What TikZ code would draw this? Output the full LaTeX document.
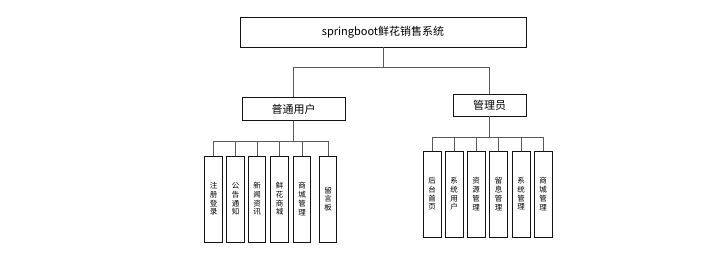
\documentclass[tikz,border=0pt]{standalone}
\usepackage{fontspec}
\setmainfont{Noto Sans CJK SC}
\usepackage{tikz}
\usetikzlibrary{positioning, calc}
\definecolor{mydark}{RGB}{20,20,20}
\definecolor{mygrey}{RGB}{90,90,90}
\tikzset{
  topbox/.style={rectangle, draw=mydark, fill=white, inner sep=0pt,
    minimum width=286pt, minimum height=30pt,
    font=\fontsize{11}{13}\selectfont, line width=0.9pt},
  rolebox/.style={rectangle, draw=mydark, fill=white, inner sep=0pt,
    minimum height=23pt, font=\fontsize{11}{13}\selectfont, line width=0.9pt},
  leafbox/.style={rectangle, draw=mydark, fill=white, inner sep=0pt,
    minimum width=17.5pt, minimum height=86pt, align=center,
    font=\fontsize{7.5}{8.7}\selectfont, line width=0.9pt},
  line/.style={line width=0.9pt, color=mygrey}
}

\begin{document}
\begin{tikzpicture}[x=1pt, y=-1pt]
  \useasboundingbox (0,0) rectangle (707,253);

  % System
  \node[topbox] (sys) at (383,32) {springboot鲜花销售系统};

  % Roles
  \node[rolebox, minimum width=103pt] (user) at (293.5,109) {普通用户};
  \node[rolebox, minimum width=73pt, minimum height=22pt] (admin) at (489.5,105) {管理员};

  \draw[line] (sys.south) -- ++(0,20) -| (user.north);
  \draw[line] (sys.south) -- ++(0,20) -| (admin.north);

  % User functions
  \foreach \i/\x/\t in {1/213.5/注\\册\\登\\录, 2/235.5/公\\告\\通\\知,
                       3/257/新\\闻\\资\\讯, 4/279.5/鲜\\花\\商\\城,
                       5/302/商\\城\\管\\理, 6/328/留\\言\\板} {
    \node[leafbox] (u\i) at (\x,199) {\t};
    \draw[line] (user.south) -- ++(0,21) -| (u\i.north);
  }

  % Admin functions
  \foreach \i/\x/\t in {1/432/后\\台\\首\\页, 2/454/系\\统\\用\\户,
                       3/476/资\\源\\管\\理, 4/498.5/留\\息\\管\\理,
                       5/521/系\\统\\管\\理, 6/543/商\\城\\管\\理} {
    \node[leafbox, minimum width=18pt] (a\i) at (\x,194) {\t};
    \draw[line] (admin.south) -- ++(0,21) -| (a\i.north);
  }
\end{tikzpicture}
\end{document}
